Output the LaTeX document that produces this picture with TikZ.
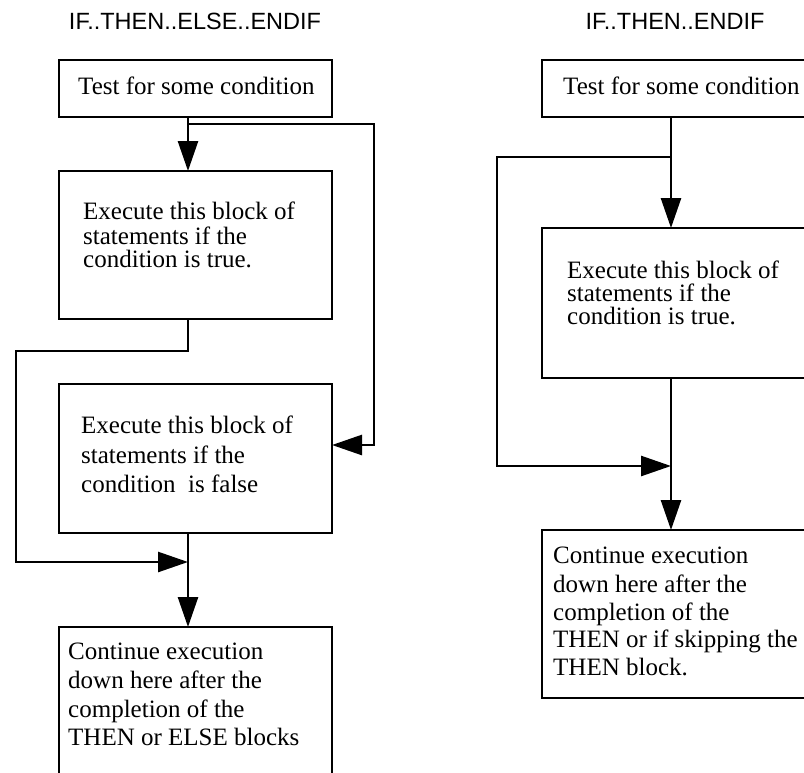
\documentclass[tikz,border=0pt]{standalone}
\usepackage{fontspec}
\setmainfont{Liberation Serif}
\newfontfamily\titlefont{Liberation Sans}
\usetikzlibrary{arrows.meta}
\begin{document}
\begin{tikzpicture}[x=1pt,y=-1pt,
  box/.style={draw, line width=2.8pt, inner sep=0pt, outer sep=0pt},
  conn/.style={line width=2.6pt},
  arr/.style={conn, -{Triangle[length=30pt,width=20pt]}},
  txt/.style={anchor=base west, inner sep=0pt, font=\fontsize{25}{30}\selectfont},
  ttl/.style={inner sep=0pt, font=\titlefont\fontsize{23.5}{28}\selectfont}]
\useasboundingbox (0,0) rectangle (804,772);
\clip (0,0) rectangle (804,772);
% titles
\node[ttl] (tl) at (195,21) {IF..THEN..ELSE..ENDIF};
\node[ttl] (tr) at (675,21) {IF..THEN..ENDIF};
% left boxes
\node[box, minimum width=273pt, minimum height=57pt] (b1) at (195.5,88.5) {};
\node[box, minimum width=273pt, minimum height=148pt] (b2) at (195.5,245) {};
\node[box, minimum width=273pt, minimum height=149pt] (b3) at (195.5,458.5) {};
\node[box, minimum width=273pt, minimum height=173pt] (b4) at (195.5,713.5) {};
% right boxes
\node[box, minimum width=298pt, minimum height=57pt] (r1) at (691,88.5) {};
\node[box, minimum width=298pt, minimum height=150pt] (r2) at (691,303) {};
\node[box, minimum width=298pt, minimum height=168pt] (r3) at (691,614) {};
% left texts
\node[txt] (t11) at (78,94) {Test for some condition};
\node[txt] (t21) at (83,219) {Execute this block of};
\node[txt] (t22) at (83,244) {statements if the};
\node[txt] (t23) at (83,267) {condition is true.};
\node[txt] (t31) at (81,433) {Execute this block of};
\node[txt] (t32) at (81,463) {statements if the};
\node[txt] (t33) at (81,492) {condition\ \ is false};
\node[txt] (t41) at (68,659) {Continue execution};
\node[txt] (t42) at (68,688) {down here after the};
\node[txt] (t43) at (68,717) {completion of the};
\node[txt] (t44) at (68,745) {THEN or ELSE blocks};
% right texts
\node[txt] (u11) at (563,94) {Test for some condition};
\node[txt] (u21) at (567,278) {Execute this block of};
\node[txt] (u22) at (567,301) {statements if the};
\node[txt] (u23) at (567,324) {condition is true.};
\node[txt] (u31) at (553,563) {Continue execution};
\node[txt] (u32) at (553,592) {down here after the};
\node[txt] (u33) at (553,620) {completion of the};
\node[txt] (u34) at (553,647) {THEN or if skipping the};
\node[txt] (u35) at (553,675) {THEN block.};
% left connectors
\coordinate (jL) at (188,124);
\coordinate (rL) at (374,445);
\coordinate (lA) at (16,351);
\coordinate (lB) at (16,562);
\draw[conn] (b1.south -| jL) -- (jL);
\draw[arr] (jL) -- (b2.north -| jL);
\draw[arr] (jL) -| (rL) -- (b3.east |- rL);
\draw[arr] (b2.south -| jL) |- (lA) -- (lB) -- (jL |- lB);
\draw[arr] (b3.south -| jL) -- (b4.north -| jL);
% right connectors
\coordinate (jR) at (671,157);
\coordinate (lR) at (497,466);
\draw[conn] (r1.south -| jR) -- (jR);
\draw[arr] (jR) -- (r2.north -| jR);
\draw[arr] (jR) -| (lR) -- (jR |- lR);
\draw[arr] (r2.south -| jR) -- (r3.north -| jR);
\end{tikzpicture}
\end{document}
